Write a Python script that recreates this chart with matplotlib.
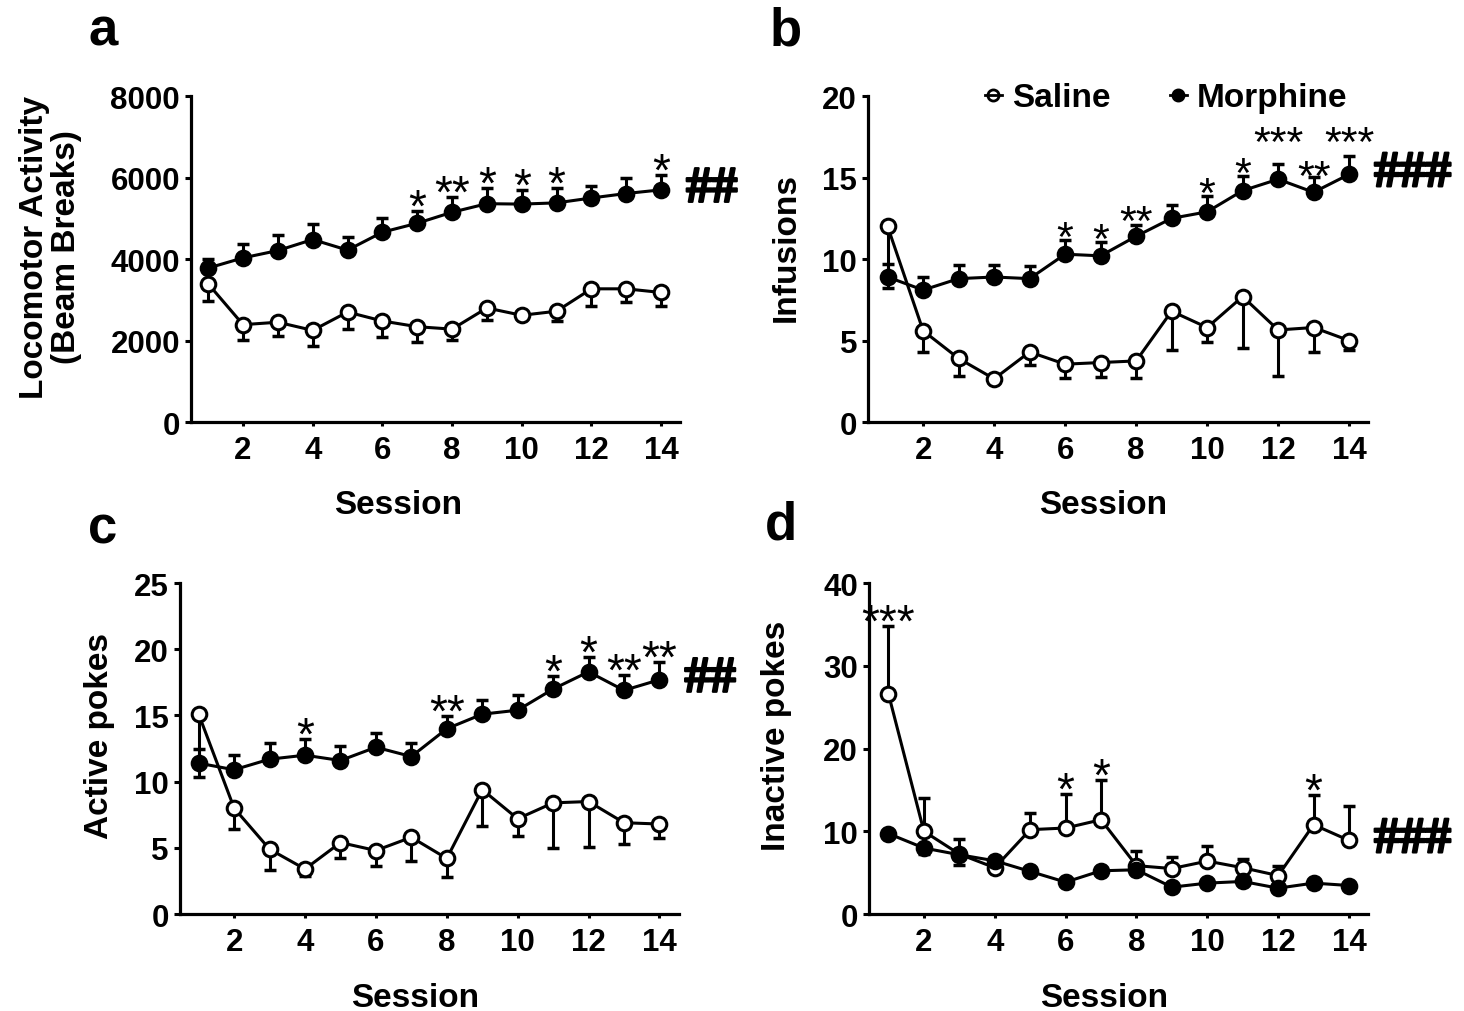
import numpy as np
import matplotlib.pyplot as plt
import matplotlib.patheffects as pe
from matplotlib.lines import Line2D

plt.rcParams['font.family'] = ['Liberation Sans', 'DejaVu Sans']
plt.rcParams['font.weight'] = 'bold'
plt.rcParams['axes.labelweight'] = 'bold'

# DATA
session = np.arange(1, 15)

# a - locomotor activity (beam breaks)
a_sal = [3390, 2390, 2450, 2250, 2700, 2480, 2340, 2280, 2800, 2620, 2720, 3270, 3270, 3180]
a_sal_err = [408, 383, 335, 392, 408, 383, 384, 261, 286, 80, 228, 424, 326, 326]
a_mor = [3780, 4030, 4210, 4480, 4220, 4660, 4880, 5150, 5360, 5350, 5380, 5500, 5610, 5700]
a_mor_err = [230, 350, 375, 375, 318, 343, 302, 367, 392, 343, 367, 294, 376, 368]
a_stars = {7: '*', 8: '**', 9: '*', 10: '*', 11: '*', 14: '*'}

# b - infusions
b_sal = [12.0, 5.6, 3.9, 2.65, 4.3, 3.55, 3.65, 3.75, 6.8, 5.8, 7.7, 5.65, 5.8, 5.0]
b_sal_err = [3.8, 1.32, 1.07, 0.1, 0.81, 0.82, 0.91, 1.05, 2.35, 0.87, 3.14, 2.83, 1.48, 0.61]
b_mor = [8.9, 8.1, 8.8, 8.9, 8.8, 10.3, 10.2, 11.4, 12.5, 12.9, 14.2, 14.9, 14.1, 15.2]
b_mor_err = [0.81, 0.81, 0.81, 0.73, 0.79, 0.87, 0.83, 0.71, 0.81, 0.95, 0.91, 0.95, 0.95, 1.11]
b_stars = {6: '*', 7: '*', 8: '**', 10: '*', 11: '*', 12: '***', 13: '**', 14: '***'}

# c - active pokes
c_sal = [15.1, 8.0, 4.9, 3.4, 5.4, 4.8, 5.8, 4.2, 9.4, 7.2, 8.4, 8.5, 6.9, 6.8]
c_sal_err = [4.78, 1.59, 1.56, 0.5, 1.14, 1.14, 1.76, 1.43, 2.78, 1.31, 3.4, 3.42, 1.59, 1.08]
c_mor = [11.4, 10.9, 11.7, 12.0, 11.6, 12.6, 11.9, 14.0, 15.1, 15.4, 17.0, 18.3, 16.9, 17.7]
c_mor_err = [1.04, 1.13, 1.19, 1.26, 1.13, 1.09, 1.01, 0.93, 1.06, 1.14, 1.01, 1.13, 1.18, 1.31]
c_stars = {4: '*', 8: '**', 11: '*', 12: '*', 13: '**', 14: '**'}

# d - inactive pokes
d_sal = [26.6, 10.0, 7.25, 5.6, 10.2, 10.4, 11.4, 5.85, 5.5, 6.4, 5.6, 4.65, 10.8, 8.9]
d_sal_err = [8.2, 3.97, 1.86, 0.3, 2.02, 4.17, 4.77, 1.82, 1.38, 1.82, 1.01, 1.21, 3.55, 4.16]
d_mor = [9.72, 7.98, 7.17, 6.44, 5.15, 3.86, 5.23, 5.35, 3.25, 3.74, 3.94, 3.13, 3.74, 3.45]
d_mor_err = [0.3, 0.73, 1.21, 0.3, 0.2, 0.2, 0.2, 0.3, 0.2, 0.2, 0.2, 0.2, 0.2, 0.2]
d_stars = {1: '***', 6: '*', 7: '*', 13: '*'}

#
# PLOTTING
#
fig = plt.figure(figsize=(14.64, 10.12), dpi=100)

def panel(rect, xlim, sal, sal_err, mor, mor_err, stars, hashes, ylim, yticks,
          ylabel, labx, xlabx, sal_up=False, raise_pts={}, star_size=33):
    ax = fig.add_axes(rect)
    sal = np.array(sal); mor = np.array(mor)
    z = np.zeros(len(session))
    # one-sided error bars
    if sal_up:
        s_err = [z, sal_err]; m_err = [mor_err, z]
    else:
        s_err = [sal_err, z]; m_err = [z, mor_err]
    ax.errorbar(session, sal, yerr=s_err, fmt='none', ecolor='k', elinewidth=2.2,
                capsize=4.5, capthick=2.5, zorder=2)
    ax.errorbar(session, mor, yerr=m_err, fmt='none', ecolor='k', elinewidth=2.2,
                capsize=4.5, capthick=2.5, zorder=2)
    ax.plot(session, sal, '-o', color='k', lw=2.2, ms=10.5, mew=2.2, mfc='white', zorder=3)
    ax.plot(session, mor, '-o', color='k', lw=2.2, ms=10.5, mew=2.2, mfc='k', zorder=4)

    # significance stars above the upper error bar
    top_vals = sal + np.array(sal_err) if sal_up else mor + np.array(mor_err)
    for s, txt in stars.items():
        ax.annotate(txt, xy=(s, top_vals[s - 1]), xytext=(0, -7 + raise_pts.get(s, 0)),
                    textcoords='offset points', ha='center', va='baseline',
                    fontsize=star_size, fontweight='normal')
    yh = sal[-1] if sal_up else mor[-1]
    ax.annotate(hashes, xy=(14, yh), xytext=(18, 0), textcoords='offset points',
                ha='left', va='center', fontsize=37, fontweight='bold',
                family='Liberation Serif', annotation_clip=False,
                path_effects=[pe.withStroke(linewidth=1.6, foreground='k')])

    ax.set_xlim(*xlim)
    ax.set_ylim(*ylim)
    ax.set_xticks([2, 4, 6, 8, 10, 12, 14])
    ax.set_yticks(yticks)
    for sp in ['top', 'right']:
        ax.spines[sp].set_visible(False)
    for sp in ['left', 'bottom']:
        ax.spines[sp].set_linewidth(2.3)
    ax.tick_params(axis='y', length=4, width=2.2, labelsize=22.5, pad=4)
    ax.tick_params(axis='x', length=3, width=2.2, labelsize=22.5, pad=6)
    ax.set_xlabel('Session', fontsize=24)
    ax.xaxis.set_label_coords(xlabx, -0.205)
    ax.set_ylabel(ylabel, fontsize=24, linespacing=1.05)
    ax.yaxis.set_label_coords(labx, 0.54)
    return ax

ax_a = panel([0.1305, 0.582, 0.334, 0.322], (0.507, 14.545), a_sal, a_sal_err, a_mor, a_mor_err,
             a_stars, '##', (0, 8000), [0, 2000, 4000, 6000, 8000],
             'Locomotor Activity\n(Beam Breaks)', -0.223, 0.423)
ax_b = panel([0.593, 0.582, 0.3415, 0.322], (0.451, 14.535), b_sal, b_sal_err, b_mor, b_mor_err,
             b_stars, '###', (0, 20), [0, 5, 10, 15, 20], 'Infusions', -0.132, 0.47,
             raise_pts={12: 13, 14: 8, 13: -2}, star_size=31)
ax_c = panel([0.123, 0.0958, 0.341, 0.327], (0.475, 14.56), c_sal, c_sal_err, c_mor, c_mor_err,
             c_stars, '##', (0, 25), [0, 5, 10, 15, 20, 25], 'Active pokes', -0.13, 0.471)
ax_d = panel([0.5936, 0.0958, 0.3408, 0.327], (0.451, 14.535), d_sal, d_sal_err, d_mor, d_mor_err,
             d_stars, '###', (0, 40), [0, 10, 20, 30, 40], 'Inactive pokes', -0.154, 0.472,
             sal_up=True)

# legend in panel b
h_sal = Line2D([], [], color='k', lw=2, marker='o', ms=8, mew=2, mfc='none')
h_mor = Line2D([], [], color='k', lw=2, marker='o', ms=8, mew=2, mfc='k')
ax_b.legend([h_sal, h_mor], ['Saline', 'Morphine'], ncol=2, frameon=False, fontsize=24,
            loc='center', bbox_to_anchor=(0.596, 0.995), handlelength=0.5,
            handletextpad=0.3, columnspacing=1.8)

# panel letters
for x, y, lab in [(88, 45, 'a'), (770, 45, 'b'), (88, 543, 'c'), (765, 540, 'd')]:
    fig.text(x / 1464, 1 - y / 1012, lab, fontsize=38, fontweight='bold', ha='left', va='baseline')

plt.savefig('out.png', dpi=100)
